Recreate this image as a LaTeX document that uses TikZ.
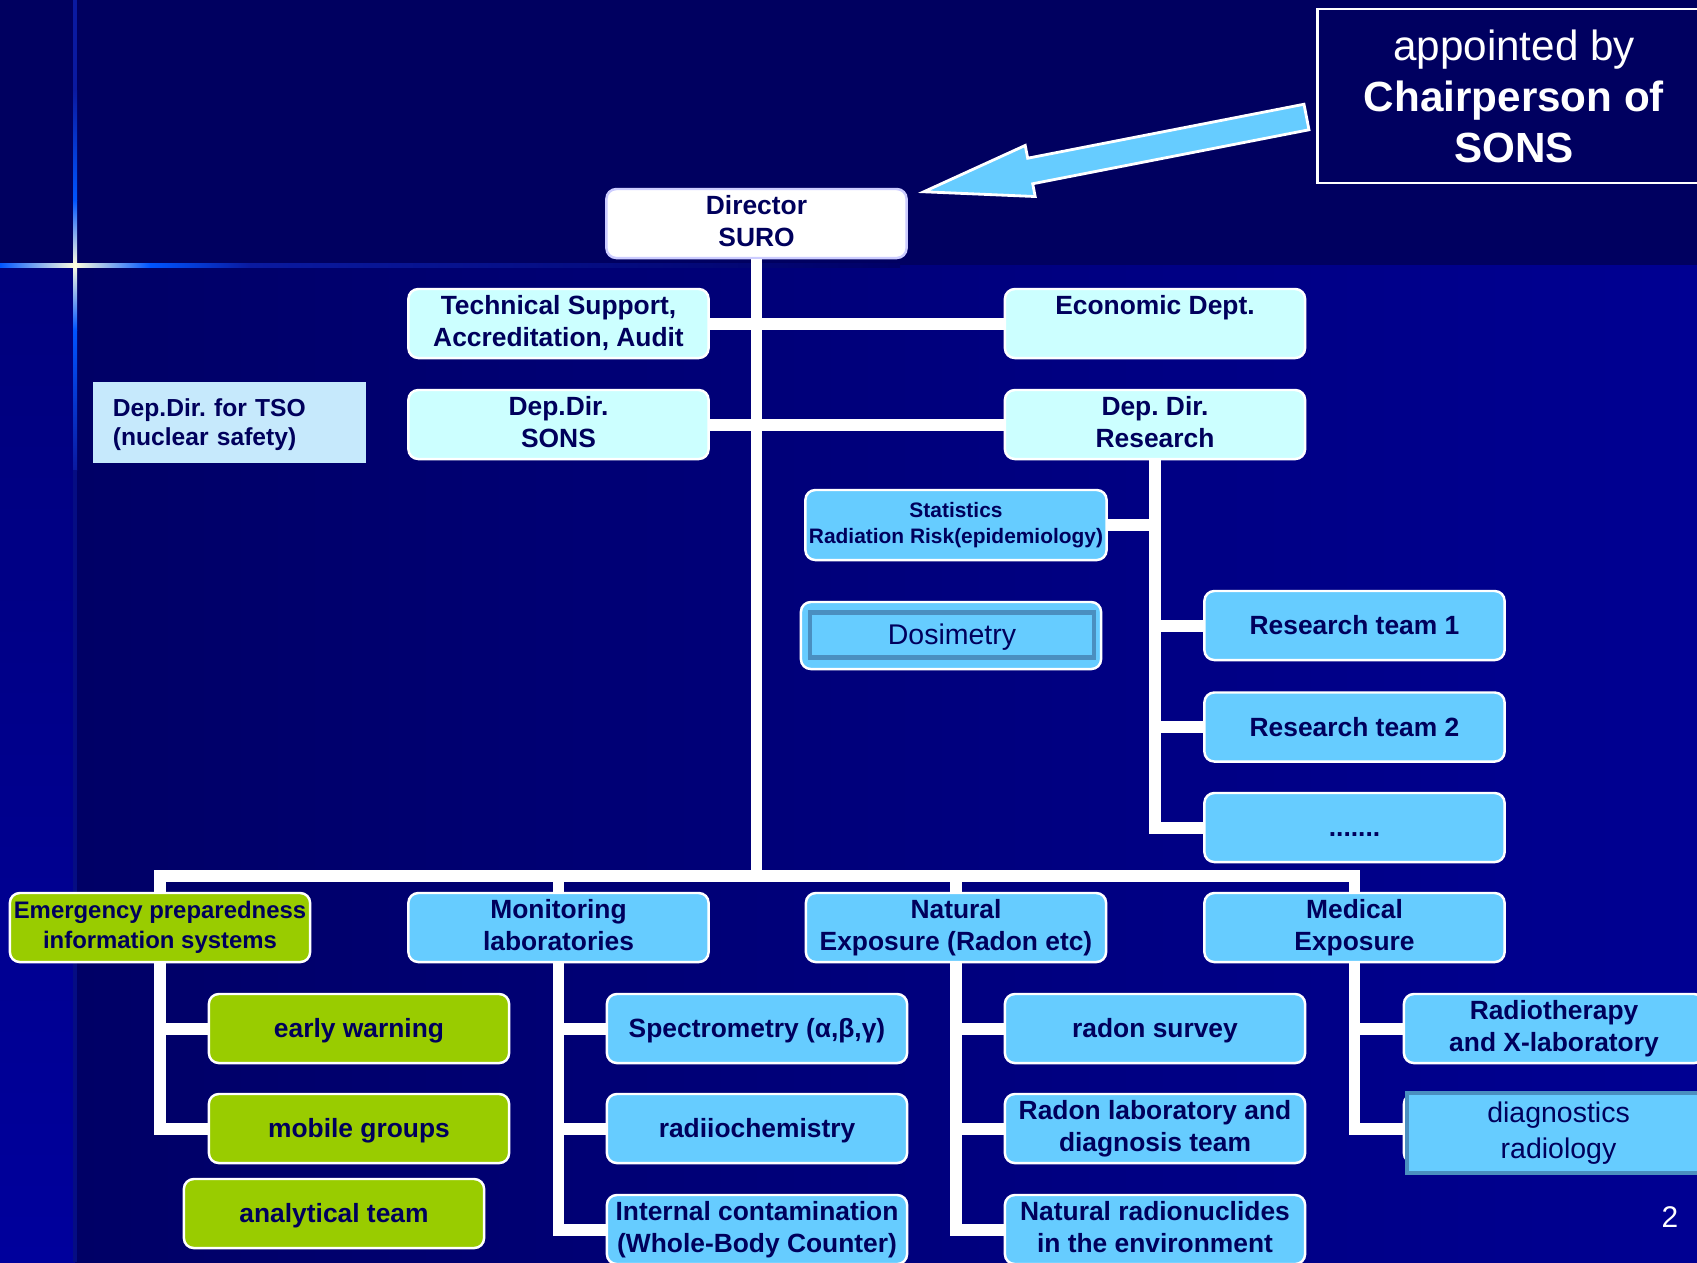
\documentclass[tikz,border=0pt]{standalone}
\usepackage{fontspec}
\setmainfont{Liberation Sans}
\usetikzlibrary{calc}
\frenchspacing

\definecolor{bgtop}{HTML}{000060}
\definecolor{bgdark}{HTML}{000066}
\definecolor{bgblue}{HTML}{000092}
\definecolor{stripblue}{HTML}{00009C}
\definecolor{glowblue}{HTML}{0055FF}
\definecolor{glowwhite}{HTML}{FFFFE0}
\definecolor{linedark}{HTML}{0A1AA0}
\definecolor{navytext}{HTML}{00005C}
\definecolor{palecyan}{HTML}{CCFFFF}
\definecolor{skyblue}{HTML}{66CCFF}
\definecolor{limegreen}{HTML}{99CC00}
\definecolor{tsoblue}{HTML}{C6E9FC}
\definecolor{steelrim}{HTML}{4A8FC0}

% line box as in a slide text frame
\newcommand{\boxstrut}{\rule[-0.212em]{0pt}{1.117em}}

\tikzset{
  orgbox/.style={rounded corners=2.8pt, draw=white, line width=0.7pt, minimum width=3cm,
    minimum height=0.69cm, inner sep=1pt, align=center, text=navytext,
    font=\fontsize{7.5}{9.1}\selectfont\bfseries,
    execute at begin node=\boxstrut, execute at end node=\boxstrut},
  pale/.style={orgbox, fill=palecyan},
  sky/.style={orgbox, fill=skyblue},
  lime/.style={orgbox, fill=limegreen},
  innerframe/.style={rectangle, draw=steelrim, line width=1.2pt, fill=skyblue, inner sep=1pt,
    align=center, text=navytext, font=\fontsize{8.1}{10.2}\selectfont,
    execute at begin node=\boxstrut, execute at end node=\boxstrut},
  link/.style={draw=white, line width=3.4pt}
}

\begin{document}
\begin{tikzpicture}[x=0.01cm, y=-0.01cm]
\clip (0,0) rectangle (1697,1262);
% backdrop
\fill [bgtop] (0,0) rectangle (1697,265);
\shade [left color=bgdark, right color=bgblue] (75,265) rectangle (1697,1262);
\shade [top color=bgdark!60!stripblue, bottom color=stripblue] (0,265) rectangle (75,1262);
%
\fill [linedark] (73,0) rectangle (77,90);
\shade [top color=linedark, bottom color=glowblue] (73,90) rectangle (77,200);
\shade [top color=glowblue, bottom color=glowwhite] (73,200) rectangle (77,265);
\shade [top color=glowwhite, bottom color=glowblue] (73,265) rectangle (77,330);
\shade [top color=glowblue, bottom color=linedark] (73,330) rectangle (77,470);
\fill [linedark!50!bgdark] (73,470) rectangle (77,1262);
\shade [left color=glowblue, right color=glowwhite] (0,263) rectangle (75,267);
\shade [left color=glowwhite, right color=glowblue] (75,263) rectangle (150,267);
\shade [left color=glowblue, right color=linedark] (150,263) rectangle (250,267);
\shade [left color=linedark, right color=bgdark] (250,263) rectangle (900,267);
%
\node [orgbox, fill=white, draw=white!80!blue] (director) at (756.5,223.5) {Director\\SURO};
\node [draw=white, line width=0.8pt, minimum width=3.92cm, minimum height=1.74cm, align=center,
  text=white, font=\fontsize{12}{14.5}\selectfont] (appoint) at (1514,96)
  {appointed by\\\textbf{Chairperson of}\\\textbf{SONS}};
%
\node [pale] (techsup) at (558.5,323.5) {Technical Support,\\Accreditation, Audit};
\node [pale] (econ) at (1155,323.5) {Economic Dept.\\\phantom{Dept.}};
\node [rectangle, fill=tsoblue, minimum width=2.73cm, minimum height=0.77cm, inner xsep=0.2cm,
  text width=2.33cm, align=left, text=navytext, font=\fontsize{7}{8.4}\selectfont\bfseries,
  execute at begin node=\boxstrut, execute at end node=\boxstrut]
  (tso) at (229.5,422.5) {Dep.Dir. for TSO\\(nuclear safety)};
\node [pale] (sonsdep) at (558.5,424.5) {Dep.Dir.\\SONS};
\node [pale] (resdep) at (1155,424.5) {Dep. Dir.\\Research};
%
\node [sky, minimum height=0.7cm, font=\fontsize{5.95}{7.4}\selectfont\bfseries] (stats) at (956,525)
  {Statistics\\Radiation Risk(epidemiology)};
\node [sky, minimum height=0.67cm] (dosim) at (951,635.5) {};
\node [innerframe, minimum width=2.84cm, minimum height=0.45cm] (dosimtext) at (952,635) {Dosimetry};
\node [sky] (team1) at (1354.5,625.5) {Research team 1};
\node [sky] (team2) at (1354.5,727) {Research team 2};
\node [sky] (teamdots) at (1354.5,827.5) {.......};
%
\node [lime, font=\fontsize{6.8}{8.4}\selectfont\bfseries] (emerg) at (160,927.5)
  {Emergency preparedness\\information systems};
\node [sky] (monitor) at (558.5,927.5) {Monitoring\\laboratories};
\node [sky] (natural) at (956,927.5) {Natural\\Exposure (Radon etc)};
\node [sky] (medical) at (1354.5,927.5) {Medical\\Exposure};
%
\node [lime] (early) at (359,1028.5) {early warning};
\node [lime] (mobile) at (359,1128.5) {mobile groups};
\node [lime] (analyt) at (334,1213.5) {analytical team};
\node [sky] (spectro) at (757,1028.5) {Spectrometry (α,β,γ)};
\node [sky] (radchem) at (757,1128.5) {radiiochemistry};
\node [sky] (internal) at (757,1229.5) {Internal contamination\\(Whole-Body Counter)};
\node [sky] (radsurvey) at (1155,1028.5) {radon survey};
\node [sky] (radlab) at (1155,1128.5) {Radon laboratory and\\diagnosis team};
\node [sky] (natnuc) at (1155,1229.5) {Natural radionuclides\\in the environment};
\node [sky] (radiother) at (1554,1028.5) {Radiotherapy\\and X-laboratory};
\node [sky] (diagnout) at (1554,1128.5) {};
\node [innerframe, minimum width=3.03cm, minimum height=0.8cm] (diagn) at (1558.5,1133)
  {diagnostics\\radiology};
\node [text=white, font=\fontsize{8.5}{10}\selectfont] (pagenum) at (1670,1217) {2};
%
\coordinate (bus) at ($(director.south |- emerg.north)+(0,-16)$);
\draw [link] (director.south) -- (bus);
\draw [link] (emerg.north) |- (bus) -| (medical.north);
\draw [link] (monitor.north) -- (monitor.north |- bus);
\draw [link] (natural.north) -- (natural.north |- bus);
\draw [link] (techsup.east) -- (econ.west);
\draw [link] (sonsdep.east) -- (resdep.west);
%
\draw [link] (resdep.south) |- (stats.east);
\draw [link] (resdep.south) |- (team1.west);
\draw [link] (resdep.south) |- (team2.west);
\draw [link] (resdep.south) |- (teamdots.west);
%
\draw [link] (emerg.south) |- (early.west);
\draw [link] (emerg.south) |- (mobile.west);
\draw [link] (monitor.south) |- (spectro.west);
\draw [link] (monitor.south) |- (radchem.west);
\draw [link] (monitor.south) |- (internal.west);
\draw [link] (natural.south) |- (radsurvey.west);
\draw [link] (natural.south) |- (radlab.west);
\draw [link] (natural.south) |- (natnuc.west);
\draw [link] (medical.south) |- (radiother.west);
\draw [link] (medical.south) |- (diagnout.west);
%
\coordinate (arrtail) at ($(appoint.west)+(-10,21)$);
\coordinate (arrtip) at ($(director.north east)+(16,4)$);
\coordinate (arrneck) at ($(arrtail)!0.722!(arrtip)$);
\filldraw [fill=skyblue, draw=white, line width=0.8pt]
  ($(arrtail)!0.13cm!90:(arrtip)$) -- ($(arrneck)!0.13cm!90:(arrtip)$)
  -- ($(arrneck)!0.26cm!90:(arrtip)$) -- (arrtip)
  -- ($(arrneck)!0.26cm!-90:(arrtip)$) -- ($(arrneck)!0.13cm!-90:(arrtip)$)
  -- ($(arrtail)!0.13cm!-90:(arrtip)$) -- cycle;
%%%%%%%%%%%%%%%%%%%%%%%%%%%%%%%
\end{tikzpicture}
\end{document}
